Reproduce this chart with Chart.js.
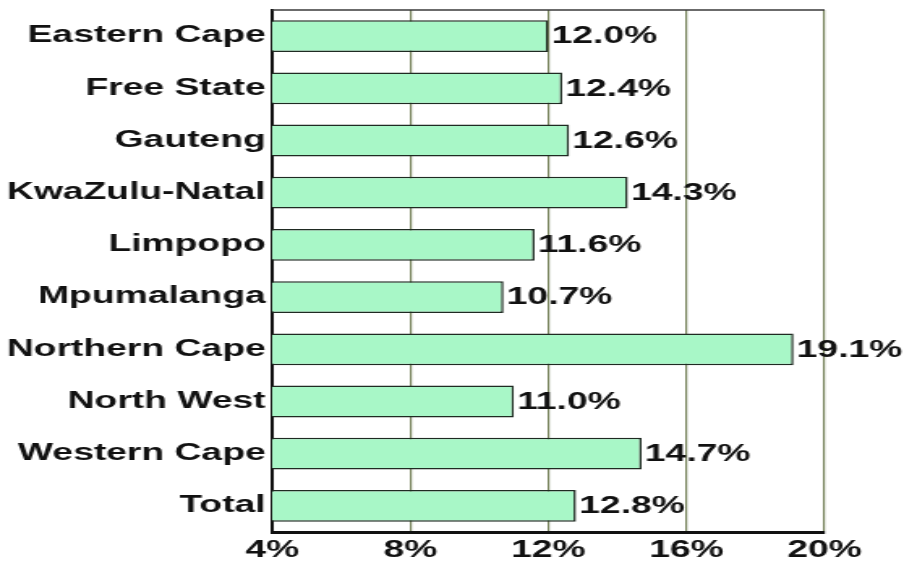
<!DOCTYPE html>
<html>
<head>
<meta charset="utf-8">
<script src="https://cdn.jsdelivr.net/npm/chart.js@4"></script>
<style>
  html, body { margin: 0; padding: 0; background: #fff; overflow: hidden; }
  /* the whole chart is drawn narrow and stretched sideways */
  #wrap { width: 558px; height: 563px; transform: scaleX(1.62); transform-origin: 0 0; }
</style>
</head>
<body>
<div id="wrap"><canvas id="myChart" width="558" height="563"></canvas></div>
<script>
const provinces = [
  'Eastern Cape',
  'Free State',
  'Gauteng',
  'KwaZulu-Natal',
  'Limpopo',
  'Mpumalanga',
  'Northern Cape',
  'North West',
  'Western Cape',
  'Total',
];
const rates = [12.0, 12.4, 12.6, 14.3, 11.6, 10.7, 19.1, 11.0, 14.7, 12.8];
const xMin = 4;
const xMax = 20;
const xStep = 4;

const labelFont = { family: 'Liberation Sans, Arial, sans-serif', size: 23, weight: 'bold' };

// value text at the end of every bar, plus the dark line along the top
const barLabels = {
  id: 'barLabels',
  afterDatasetsDraw(chart) {
    const ctx = chart.ctx;
    const meta = chart.getDatasetMeta(0);
    ctx.save();
    ctx.font = `bold ${labelFont.size}px ${labelFont.family}`;
    ctx.fillStyle = '#111';
    ctx.textAlign = 'left';
    ctx.textBaseline = 'middle';
    meta.data.forEach((bar, i) => {
      ctx.fillText(rates[i].toFixed(1) + '%', bar.x + 2, bar.y + 1);
    });
    const area = chart.chartArea;
    ctx.strokeStyle = '#3a3a3a';
    ctx.lineWidth = 1.5;
    ctx.beginPath();
    ctx.moveTo(area.left, area.top);
    ctx.lineTo(area.right, area.top);
    ctx.stroke();
    ctx.restore();
  },
};

const ctx = document.getElementById('myChart');

new Chart(ctx, {
  type: 'bar',
  data: {
    labels: provinces,
    datasets: [
      {
        data: rates,
        backgroundColor: '#a8f7c7',
        borderColor: '#1f2a22',
        borderWidth: 1.5,
        borderSkipped: false,
        categoryPercentage: 1,
        barPercentage: 0.61,
      },
    ],
  },
  options: {
    indexAxis: 'y',
    responsive: false,
    animation: false,
    devicePixelRatio: 1,
    layout: { padding: { top: 10, right: 49, left: 0, bottom: 0 } },
    plugins: {
      legend: { display: false },
      tooltip: { enabled: false },
    },
    scales: {
      x: {
        min: xMin,
        max: xMax,
        afterFit: (scale) => {
          scale.height = 31;
          scale.paddingLeft = 0;
          scale.paddingRight = 0;
        },
        ticks: {
          stepSize: xStep,
          padding: 5,
          color: '#111',
          font: labelFont,
          callback: (v) => v + '%',
        },
        grid: {
          color: '#76825a',
          lineWidth: 1.2,
          drawTicks: false,
        },
        border: { display: true, color: '#111', width: 3 },
      },
      y: {
        afterFit: (scale) => {
          scale.width = 168;
          scale.paddingTop = 0;
          scale.paddingBottom = 0;
        },
        ticks: {
          color: '#111',
          font: labelFont,
          padding: 4,
        },
        grid: { display: false, drawTicks: false },
        border: { display: true, color: '#111', width: 2 },
      },
    },
  },
  plugins: [barLabels],
});
</script>
</body>
</html>
